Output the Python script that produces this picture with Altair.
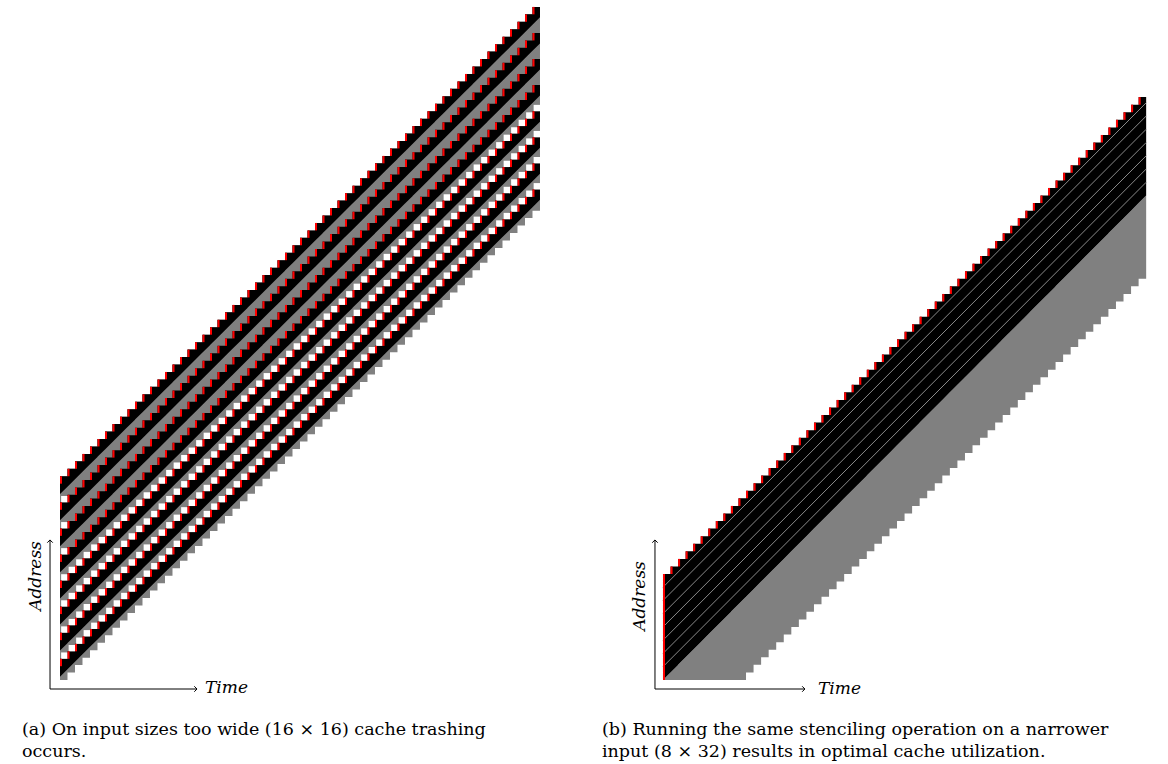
import altair as alt
import numpy as np
import pandas as pd

# ---------------- values ----------------
STEPS = 64                      # time steps (cache-line loads) per panel
EPS = 0.002

# panel (a): 16 x 16 input, 8 stencil rows
A_STRIPES = 8
A_BOTTOM_GRAY = 0.45            # cached lines below the lowest row
A_PERIOD = 3.5                  # distance between stencil rows (lines)
A_BLACK = 2.4                   # height of a row block (lines)
A_WHITE_GAPS = [0, 1, 2, 3]     # gaps where lines were evicted (trashing)
A_TOP = A_BOTTOM_GRAY + (A_STRIPES - 1) * A_PERIOD + A_BLACK

# panel (b): 8 x 32 input
B_BAND = 14                     # lines held by the stencil window
B_ROWS = 8
B_KEEP = 10                     # lines still cached behind the window

CAPTION_A = ["(a) On input sizes too wide (16 × 16) cache trashing", "occurs."]
CAPTION_B = ["(b) Running the same stenciling operation on a narrower",
             "input (8 × 32) results in optimal cache utilization."]

W, H = 584, 764
SCALE_A_X = [-8.0, 69.8667]
SCALE_A_Y = [-11.275, 91.275]
SCALE_B_X = [-10.46, 66.89]
SCALE_B_Y = [-11.096, 89.828]

# ---------------- tables built from the values ----------------
xs = []
for j in range(STEPS):
    xs += [j, j + 1 - EPS]
xs = np.array(xs, dtype=float)
fl = np.floor(xs)


def area_df(lo, hi, name):
    return pd.DataFrame({"x": xs, "lo": lo, "hi": hi, "band": name})


# panel a
a_gray = area_df(fl, fl + A_TOP, "gray")
a_black = pd.concat([
    area_df(xs + A_BOTTOM_GRAY + k * A_PERIOD,
            fl + A_BOTTOM_GRAY + k * A_PERIOD + A_BLACK, f"row{k}")
    for k in range(A_STRIPES)])

white_rows, red_rows = [], []
for j in range(STEPS):
    for k in range(A_STRIPES):
        top = j + A_BOTTOM_GRAY + k * A_PERIOD + A_BLACK
        red_rows.append({"x0": j, "x1": j + 0.27, "y0": top - 1, "y1": top})
        if k < A_STRIPES - 1 and (k in A_WHITE_GAPS or j == 0):
            white_rows.append({"x0": j + 0.15, "x1": j + 1, "y0": top, "y1": top + 0.85})
a_white = pd.DataFrame(white_rows)
a_red = pd.DataFrame(red_rows)

# panel b
b_gray = area_df(np.maximum(0, fl - B_KEEP), xs, "gray")
b_black = area_df(xs, fl + B_BAND, "black")
b_lines = pd.concat([
    pd.DataFrame({"x": [0, STEPS], "y": [k * B_BAND / B_ROWS, STEPS + k * B_BAND / B_ROWS], "k": k})
    for k in range(1, B_ROWS)])
b_red = pd.DataFrame(
    [{"x0": 0, "x1": 0.27, "y0": 0, "y1": B_BAND}] +
    [{"x0": j, "x1": j + 0.27, "y0": j + B_BAND - 1, "y1": j + B_BAND} for j in range(1, STEPS)])

# axis arrows (in data units)
A_AXES = {"ox": -1.33, "oy": -1.21, "xe": 18.27, "ye": 18.8}
B_AXES = {"ox": -1.06, "oy": -1.19, "xe": 18.8, "ye": 18.5}


def panel(xdom, ydom, gray, blacks, extra_layers, axes, labels, caption):
    sx = alt.Scale(domain=xdom, nice=False, zero=False)
    sy = alt.Scale(domain=ydom, nice=False, zero=False)

    def X(f):
        return alt.X(f, type="quantitative", scale=sx, axis=None)

    def Y(f):
        return alt.Y(f, type="quantitative", scale=sy, axis=None, stack=False)

    layers = []
    layers.append(alt.Chart(gray).mark_area(color="#808080", interpolate="linear")
                  .encode(x=X("x"), y=Y("lo"), y2="hi"))
    layers.append(alt.Chart(blacks).mark_area(color="#000000", interpolate="linear")
                  .encode(x=X("x"), y=Y("lo"), y2="hi", detail="band:N"))
    for kind, df, col in extra_layers:
        if kind == "rect":
            layers.append(alt.Chart(df).mark_rect(color=col, strokeWidth=0)
                          .encode(x=X("x0"), x2="x1", y=Y("y0"), y2="y1"))
        else:
            layers.append(alt.Chart(df).mark_line(color=col, strokeWidth=1)
                          .encode(x=X("x"), y=Y("y"), detail="k:N"))
    ax = pd.DataFrame({"x0": [axes["ox"], axes["ox"]], "x1": [axes["xe"], axes["ox"]],
                       "y0": [axes["oy"], axes["oy"]], "y1": [axes["oy"], axes["ye"]]})
    layers.append(alt.Chart(ax).mark_rule(color="black", strokeWidth=1)
                  .encode(x=X("x0"), x2="x1", y=Y("y0"), y2="y1"))
    tips = pd.DataFrame({"x": [axes["xe"], axes["ox"]], "y": [axes["oy"], axes["ye"]],
                         "s": ["r", "u"]})
    layers.append(alt.Chart(tips[tips.s == "r"]).mark_point(
        shape="M-1,-1L0,0L-1,1", filled=False, size=30, strokeWidth=1, color="black", opacity=1)
        .encode(x=X("x"), y=Y("y")))
    layers.append(alt.Chart(tips[tips.s == "u"]).mark_point(
        shape="M-1,1L0,0L1,1", filled=False, size=30, strokeWidth=1, color="black", opacity=1)
        .encode(x=X("x"), y=Y("y")))
    (tx, ty), (ax_x, ax_y) = labels
    layers.append(alt.Chart(pd.DataFrame({"t": ["Time"]})).mark_text(
        font="DejaVu Serif", fontStyle="italic", fontSize=17, align="left", baseline="middle")
        .encode(x=alt.value(tx), y=alt.value(ty), text="t:N"))
    layers.append(alt.Chart(pd.DataFrame({"t": ["Address"]})).mark_text(
        font="DejaVu Serif", fontStyle="italic", fontSize=17, align="center", baseline="middle",
        angle=270)
        .encode(x=alt.value(ax_x), y=alt.value(ax_y), text="t:N"))
    cx, cys = caption[0], caption[1]
    for line, cy in zip(caption[2], cys):
        layers.append(alt.Chart(pd.DataFrame({"t": [line]})).mark_text(
            font="DejaVu Serif", fontSize=17.5, align="left", baseline="alphabetic", color="black")
            .encode(x=alt.value(cx), y=alt.value(cy), text="t:N"))
    return alt.layer(*layers).properties(width=W, height=H)


pa = panel(SCALE_A_X, SCALE_A_Y, a_gray, a_black,
           [("rect", a_white, "#ffffff"), ("rect", a_red, "#ff0000")],
           A_AXES, ((205, 688), (36, 576)), (22, [735, 757], CAPTION_A))
pb = panel(SCALE_B_X, SCALE_B_Y, b_gray, b_black,
           [("line", b_lines, "#8a8a8a"), ("rect", b_red, "#ff0000")],
           B_AXES, ((818 - W, 689), (640 - W, 596)), (18, [735, 757], CAPTION_B))

chart = (alt.hconcat(pa, pb, spacing=0)
         .properties(padding=0, background="white")
         .configure_view(stroke=None))

chart.save("out.html", embed_options={"renderer": "svg", "actions": False})
